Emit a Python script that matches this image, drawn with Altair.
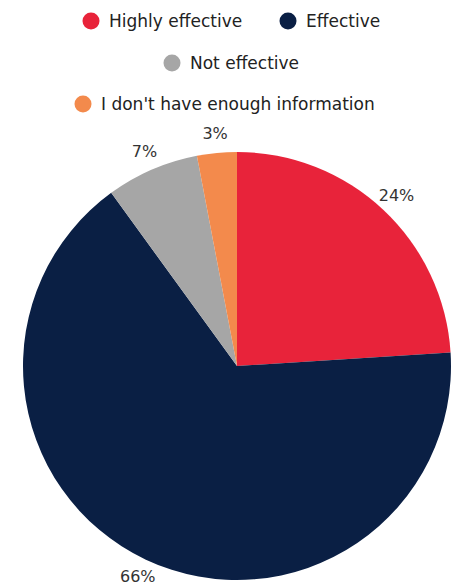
import altair as alt
import pandas as pd

categories = ["Highly effective", "Effective", "Not effective", "I don't have enough information"]
values = [24, 66, 7, 3]
labels = ["24%", "66%", "7%", "3%"]

palette = ["#E8233A", "#0A1F44", "#A6A6A6", "#F38A4C"]

df = pd.DataFrame({
    "category": categories,
    "value": values,
    "label": labels,
    "idx": list(range(len(categories))),
})

CX, CY = 237, 366
FONT = "DejaVu Sans"

color = alt.Color("category:N", scale=alt.Scale(domain=categories, range=palette), legend=None)

pie = alt.Chart(df).mark_arc(outerRadius=214, stroke=None).encode(
    theta=alt.Theta("value:Q", stack=True),
    color=color,
    order=alt.Order("idx:Q"),
    x=alt.value(CX),
    y=alt.value(CY),
)

text = alt.Chart(df).mark_text(radius=233, font=FONT, fontSize=16, color="#333333").encode(
    theta=alt.Theta("value:Q", stack=True),
    text="label:N",
    order=alt.Order("idx:Q"),
    x=alt.value(CX),
    y=alt.value(CY),
)

# legend layout (positions only)
legend_layout = [(91, 21), (288, 21), (172, 63), (83, 104)]

legend_layers = []
for i, cat in enumerate(categories):
    lx, ly = legend_layout[i]
    d = pd.DataFrame({"category": [cat]})
    dot = alt.Chart(d).mark_point(filled=True, shape="circle", size=290, opacity=1).encode(
        x=alt.value(lx), y=alt.value(ly), color=color
    )
    lab = alt.Chart(d).mark_text(align="left", baseline="middle", font=FONT, fontSize=17, color="#222222").encode(
        x=alt.value(lx + 18), y=alt.value(ly + 1), text="category:N"
    )
    legend_layers += [dot, lab]

chart = alt.layer(pie, text, *legend_layers).properties(
    width=452, height=586, padding=0, autosize=alt.AutoSizeParams(type="none"),
    background="white",
).configure_view(stroke=None)

chart.save("out.html", embed_options={"renderer": "svg", "actions": False})
